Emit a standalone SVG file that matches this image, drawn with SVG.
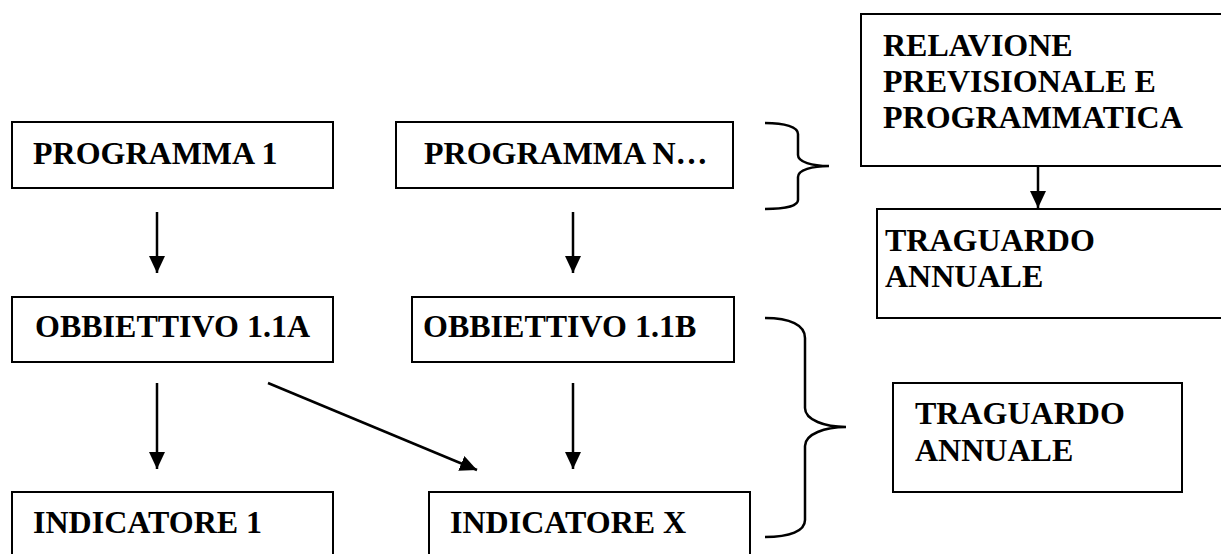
<svg xmlns="http://www.w3.org/2000/svg" width="1221" height="554" viewBox="0 0 1221 554">
<style>
.box{fill:#fff;stroke:#000;stroke-width:2}
.t{font-family:"Liberation Serif","Times New Roman",serif;font-weight:bold;font-size:32px;fill:#000}
.c{fill:none;stroke:#000;stroke-width:2.5}
.br{fill:none;stroke:#000;stroke-width:2.5}
</style>
<defs>
<marker id="ah" markerUnits="userSpaceOnUse" markerWidth="18" markerHeight="17" refX="17" refY="8" orient="auto">
<path d="M0,0 L17,8 L0,16 z" fill="#000"/>
</marker>
</defs>
<rect width="1221" height="554" fill="#fff"/>
<g id="prog1"><rect class="box" x="12" y="122" width="321" height="66"/><text class="t" x="33" y="164">PROGRAMMA 1</text></g>
<g id="progN"><rect class="box" x="396" y="122" width="337" height="66"/><text class="t" x="424" y="164">PROGRAMMA N…</text></g>
<g id="obA"><rect class="box" x="12" y="297" width="321" height="65"/><text class="t" x="35" y="337">OBBIETTIVO 1.1A</text></g>
<g id="obB"><rect class="box" x="412" y="297" width="322" height="65"/><text class="t" x="423" y="337">OBBIETTIVO 1.1B</text></g>
<g id="ind1"><rect class="box" x="12" y="492" width="321" height="80"/><text class="t" x="33" y="533">INDICATORE 1</text></g>
<g id="indX"><rect class="box" x="429" y="492" width="321" height="80"/><text class="t" x="450" y="533">INDICATORE X</text></g>
<g id="rel"><rect class="box" x="861" y="14" width="370" height="152"/><text class="t" x="883" y="56">RELAVIONE</text><text class="t" x="883" y="92">PREVISIONALE E</text><text class="t" x="883" y="128">PROGRAMMATICA</text></g>
<g id="trag1"><rect class="box" x="877" y="209" width="354" height="109"/><text class="t" x="885" y="251">TRAGUARDO</text><text class="t" x="885" y="287">ANNUALE</text></g>
<g id="trag2"><rect class="box" x="893" y="383" width="289" height="109"/><text class="t" x="915" y="424">TRAGUARDO</text><text class="t" x="915" y="461">ANNUALE</text></g>
<g id="connectors">
<line class="c" x1="157" y1="212" x2="157" y2="273" marker-end="url(#ah)"/>
<line class="c" x1="573" y1="212" x2="573" y2="273" marker-end="url(#ah)"/>
<line class="c" x1="157" y1="383" x2="157" y2="469" marker-end="url(#ah)"/>
<line class="c" x1="573" y1="383" x2="573" y2="469" marker-end="url(#ah)"/>
<line class="c" x1="268" y1="383" x2="477" y2="470" marker-end="url(#ah)"/>
<line class="c" x1="1038" y1="166" x2="1038" y2="208" marker-end="url(#ah)"/>
<path class="br" d="M765,123 C785,123 798,127 798,134 L798,155 C798,162 812,166 829,166 C812,166 798,170 798,177 L798,200 C798,206 785,209 765,209"/>
<path class="br" d="M765,318 C790,318 805,325 805,338 L805,408 C805,420 825,427 846,427 C825,427 805,434 805,446 L805,520 C805,531 790,537 765,537"/>
</g>
</svg>
